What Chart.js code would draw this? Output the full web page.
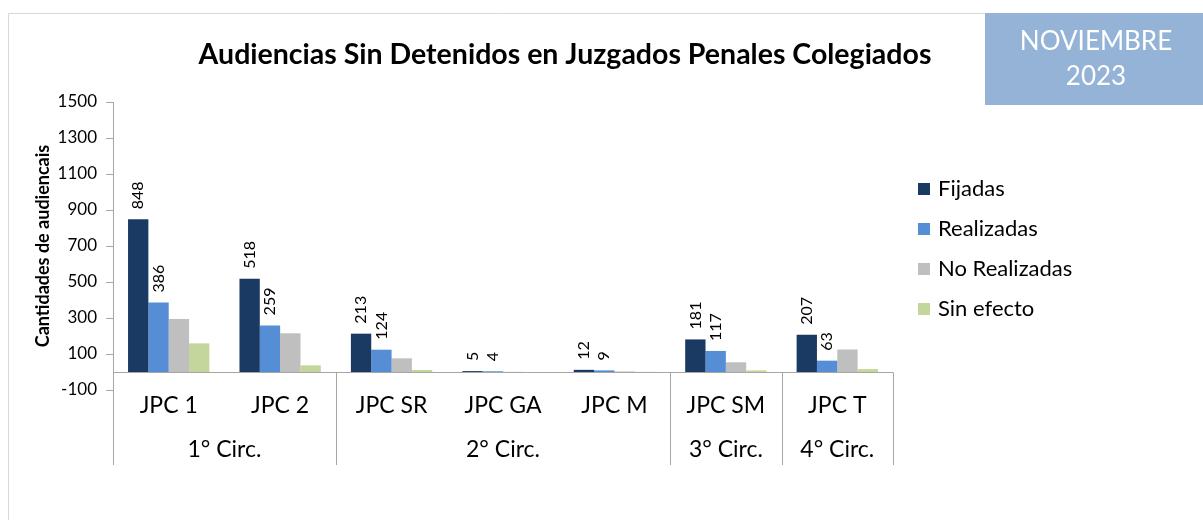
<!DOCTYPE html>
<html>
<head>
<meta charset="utf-8">
<script src="https://cdn.jsdelivr.net/npm/chart.js@4.4.0/dist/chart.umd.min.js"></script>
<style>
  html, body { margin: 0; padding: 0; background: #fff; }
  #wrap { width: 1203px; height: 520px; position: relative; }
</style>
</head>
<body>
<div id="wrap"><canvas id="myChart" width="1203" height="520"></canvas></div>
<script>
const juzgados = ['JPC 1', 'JPC 2', 'JPC SR', 'JPC GA', 'JPC M', 'JPC SM', 'JPC T'];
const circunscripciones = ['1° Circ.', '2° Circ.', '3° Circ.', '4° Circ.'];
const juzgadosPorCirc = [2, 3, 1, 1];
const fijadas = [848, 518, 213, 5, 12, 181, 207];
const realizadas = [386, 259, 124, 4, 9, 117, 63];
const noRealizadas = [294, 215, 76, 1, 3, 54, 125];
const sinEfecto = [159, 37, 11, 0, 1, 9, 16];
const yTicks = [-100, 100, 300, 500, 700, 900, 1100, 1300, 1500];

const FONT = 'Lato, "Open Sans", sans-serif';
const GRIS = '#A6A6A6';

// dibuja titulo, recuadro del mes, leyenda, etiquetas y divisiones del eje x
const extras = {
    id: 'extras',
    afterDraw(chart) {
        const c = chart.ctx;
        const area = chart.chartArea;
        const y = chart.scales.y;
        c.save();

        // marco
        c.strokeStyle = '#D9D9D9';
        c.lineWidth = 1;
        c.beginPath();
        c.moveTo(8.5, 520);
        c.lineTo(8.5, 13.5);
        c.lineTo(985, 13.5);
        c.stroke();

        // titulo
        c.fillStyle = '#000';
        c.font = 'bold 28.5px ' + FONT;
        c.textAlign = 'center';
        c.textBaseline = 'middle';
        c.fillText('Audiencias Sin Detenidos en Juzgados Penales Colegiados', 565, 55);

        // recuadro mes
        c.fillStyle = '#95B3D7';
        c.fillRect(985, 13, 218, 92);
        c.fillStyle = '#fff';
        c.font = '26px ' + FONT;
        c.fillText('NOVIEMBRE', 1096, 42);
        c.fillText('2023', 1096, 77);

        // linea del cero
        const y0 = Math.round(y.getPixelForValue(0)) + 0.5;
        const bottom = 465;
        c.strokeStyle = GRIS;
        c.lineWidth = 1;
        c.beginPath();
        c.moveTo(area.left, y0);
        c.lineTo(area.right, y0);
        c.stroke();

        // eje y prolongado
        c.beginPath();
        c.moveTo(Math.round(area.left) + 0.5, area.bottom);
        c.lineTo(Math.round(area.left) + 0.5, bottom);
        c.stroke();

        // divisiones y etiquetas de circunscripcion
        const paso = (area.right - area.left) / juzgados.length;
        let idx = 0;
        c.fillStyle = '#000';
        c.font = '23px ' + FONT;
        circunscripciones.forEach((circ, k) => {
            const x1 = area.left + idx * paso;
            idx += juzgadosPorCirc[k];
            const x2 = area.left + idx * paso;
            const xl = Math.round(x2) + 0.5;
            c.beginPath();
            c.moveTo(xl, y0);
            c.lineTo(xl, bottom);
            c.stroke();
            c.fillText(circ, (x1 + x2) / 2, 450);
        });

        // etiquetas de datos (Fijadas y Realizadas)
        c.font = '16px ' + FONT;
        c.textAlign = 'left';
        c.textBaseline = 'middle';
        [0, 1].forEach(i => {
            chart.getDatasetMeta(i).data.forEach((bar, j) => {
                c.save();
                c.translate(bar.x, bar.y - 10);
                c.rotate(-Math.PI / 2);
                c.fillText(String(chart.data.datasets[i].data[j]), 0, 0);
                c.restore();
            });
        });

        // leyenda
        c.font = '22px ' + FONT;
        chart.data.datasets.forEach((ds, i) => {
            const ly = 189 + i * 40;
            c.fillStyle = ds.backgroundColor;
            c.fillRect(918, ly - 6, 12, 12);
            c.fillStyle = '#000';
            c.fillText(ds.label, 938, ly);
        });

        c.restore();
    }
};

const ctx = document.getElementById('myChart').getContext('2d');

const data = {
    labels: juzgados,
    datasets: [
        { label: 'Fijadas', data: fijadas, backgroundColor: '#1B3A63' },
        { label: 'Realizadas', data: realizadas, backgroundColor: '#558ED5' },
        { label: 'No Realizadas', data: noRealizadas, backgroundColor: '#BFBFBF' },
        { label: 'Sin efecto', data: sinEfecto, backgroundColor: '#C3D69B' }
    ]
};

const chart = new Chart(ctx, {
    type: 'bar',
    data: data,
    plugins: [extras],
    options: {
        responsive: false,
        animation: false,
        layout: { padding: { left: 0, right: 310, top: 102, bottom: 50 } },
        datasets: {
            bar: { categoryPercentage: 0.73, barPercentage: 1.0, borderWidth: 0 }
        },
        plugins: {
            legend: { display: false },
            title: { display: false },
            tooltip: { enabled: false }
        },
        scales: {
            x: {
                grid: { display: false, drawTicks: false },
                border: { display: false },
                ticks: { color: '#000', font: { family: FONT, size: 23 }, padding: 2, maxRotation: 0 },
                afterFit(scale) { scale.height = 80; }
            },
            y: {
                min: -100,
                max: 1500,
                afterBuildTicks(scale) { scale.ticks = yTicks.map(v => ({ value: v })); },
                grid: { drawOnChartArea: false, drawTicks: true, tickLength: 7, color: GRIS },
                border: { display: true, color: GRIS },
                ticks: {
                    color: '#000',
                    font: { family: FONT, size: 17 },
                    padding: 9,
                    callback: v => String(v)
                },
                title: {
                    display: true,
                    text: 'Cantidades de audiencais',
                    color: '#000',
                    font: { family: FONT, size: 18, weight: 'bold' },
                    padding: { top: 32, bottom: 0 }
                },
                afterFit(scale) { scale.width = 113; }
            }
        }
    }
});
</script>
</body>
</html>
